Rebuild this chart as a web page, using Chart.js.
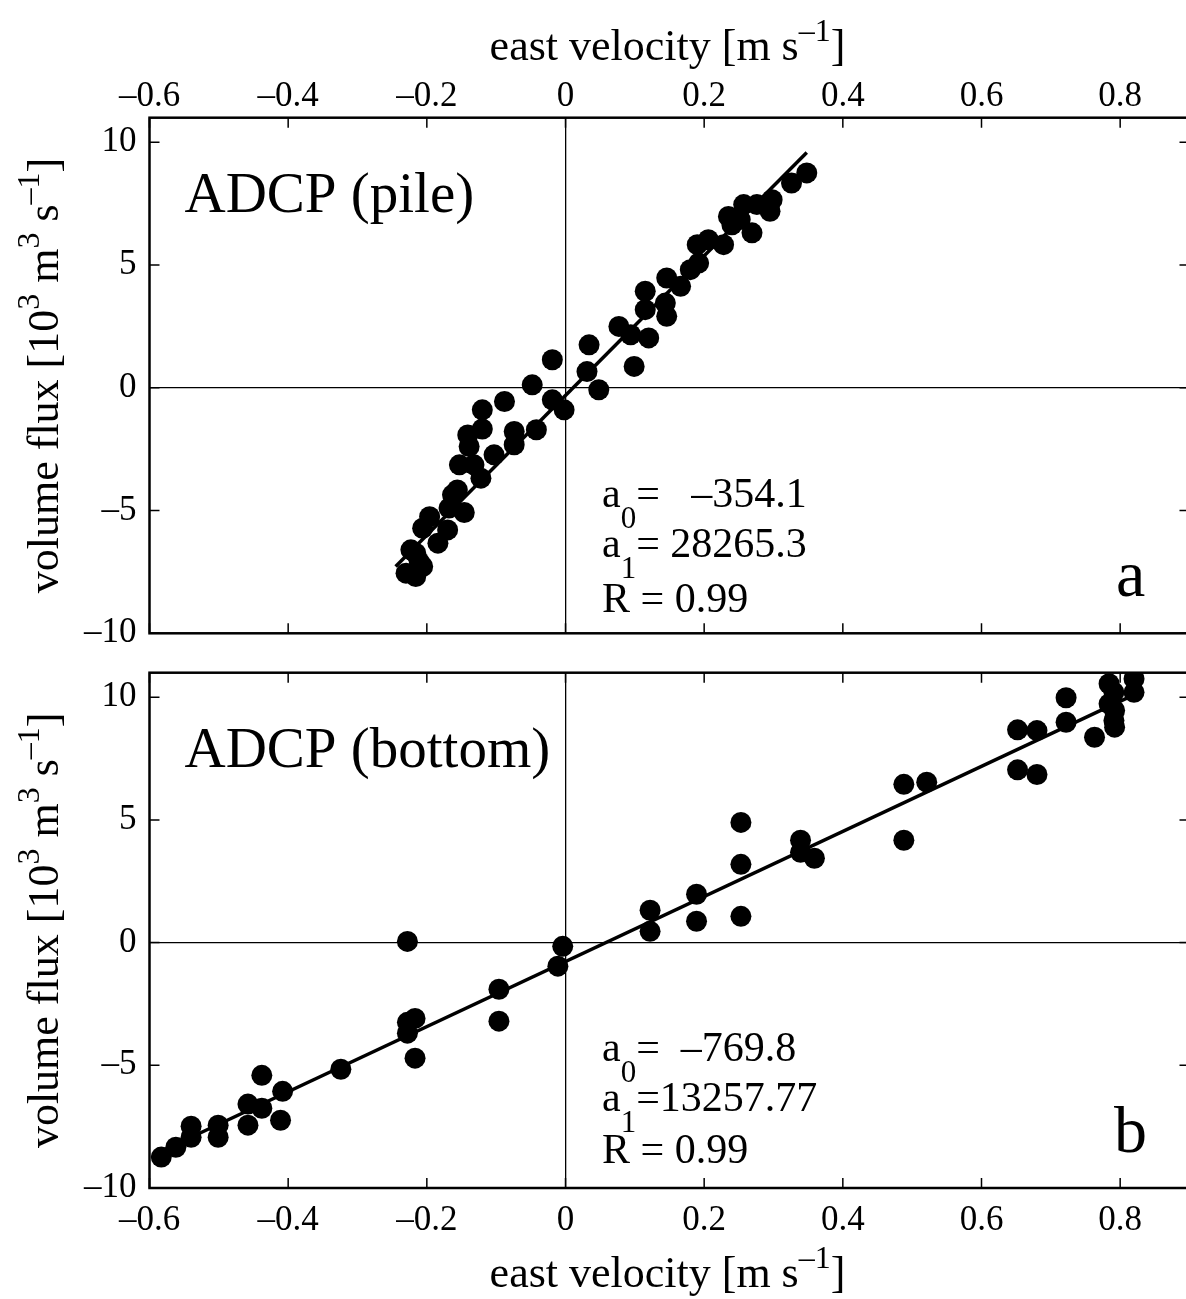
<!DOCTYPE html>
<html><head><meta charset="utf-8">
<script src="https://cdn.jsdelivr.net/npm/chart.js@4/dist/chart.umd.min.js"></script>
<style>
html,body{margin:0;padding:0;background:#fff;overflow:hidden;width:1186px;height:1299px;}
canvas{position:absolute;left:0;}
#c1{top:0;}
#c2{top:650px;}
</style></head><body>
<canvas id="c1" width="1200" height="650"></canvas>
<canvas id="c2" width="1200" height="649"></canvas>
<script>
// ---- axis ticks ----
const xTicks = [-0.6, -0.4, -0.2, 0, 0.2, 0.4, 0.6, 0.8];
const xTickLabels = ['\u20130.6', '\u20130.4', '\u20130.2', '0', '0.2', '0.4', '0.6', '0.8'];
const yTicks = [-10, -5, 0, 5, 10];
const yTickLabels = ['\u201310', '\u20135', '0', '5', '10'];

// ---- panel a: ADCP (pile) ----
const pileU = [0.348, 0.326, 0.298, 0.295, 0.276, 0.257, 0.269, 0.235, 0.240, 0.252,
  0.228, 0.206, 0.190, 0.192, 0.180, 0.166, 0.146, 0.144, 0.146, 0.115,
  0.115, 0.077, 0.094, 0.120, 0.099, 0.034, 0.031, 0.048, -0.019, -0.048,
  -0.019, -0.002, -0.088, -0.120, -0.120, -0.141, -0.139, -0.074, -0.074, -0.042,
  -0.103, -0.132, -0.153, -0.122, -0.156, -0.163, -0.146, -0.168, -0.170, -0.196,
  -0.206, -0.184, -0.216, -0.211, -0.230, -0.216, -0.206, -0.223];
const pileQ = [8.75, 8.34, 7.66, 7.19, 7.46, 7.46, 6.31, 6.98, 6.64, 6.85,
  5.83, 6.03, 5.83, 5.08, 4.81, 4.13, 4.47, 3.45, 2.91, 3.93,
  3.18, 2.50, 2.16, 2.03, 0.87, 1.75, 0.66, -0.08, 1.14, 0.12,
  -0.49, -0.90, -0.56, -0.90, -1.68, -1.92, -2.39, -1.78, -2.32, -1.71,
  -2.73, -3.14, -3.14, -3.68, -4.16, -4.36, -5.08, -4.90, -5.79, -5.25,
  -5.72, -6.33, -6.74, -7.08, -7.55, -7.69, -7.28, -6.60];
const pileFitU = [-0.245, 0.348];
const pileFitQ = [-7.28, 9.58];

// ---- panel b: ADCP (bottom) ----
const bottomU = [-0.583, -0.562, -0.540, -0.540, -0.501, -0.501, -0.458, -0.458, -0.438, -0.438,
  -0.411, -0.408, -0.324, -0.228, -0.228, -0.217, -0.217, -0.228, -0.096, -0.096,
  -0.011, -0.004, 0.122, 0.122, 0.189, 0.189, 0.253, 0.253, 0.253, 0.339,
  0.339, 0.359, 0.488, 0.521, 0.488, 0.652, 0.680, 0.652, 0.680, 0.722,
  0.722, 0.763, 0.784, 0.791, 0.784, 0.792, 0.791, 0.792, 0.820, 0.820];
const bottomQ = [-8.74, -8.34, -7.93, -7.48, -7.93, -7.44, -7.44, -6.58, -6.75, -5.41,
  -7.24, -6.06, -5.16, -3.69, -3.25, -3.09, -4.71, 0.05, -1.90, -3.20,
  -0.96, -0.15, 1.32, 0.46, 1.97, 0.87, 4.90, 3.19, 1.07, 4.17,
  3.68, 3.44, 6.45, 6.54, 4.17, 8.67, 8.64, 7.04, 6.85, 9.98,
  8.98, 8.37, 10.55, 10.20, 9.73, 9.46, 9.05, 8.78, 10.75, 10.20];
const bottomFitU = [-0.58, 0.825];
const bottomFitQ = [-8.46, 10.17];

const FONT = "'Liberation Serif', 'Times New Roman', serif";

function drawRich(ctx, x, y, segs, size, small, align) {
  let total = 0;
  const parts = segs.map(s => {
    const sz = (s.sup || s.sub) ? small : size;
    ctx.font = sz + 'px ' + FONT;
    const w = ctx.measureText(s.t).width;
    total += w;
    return { s, sz, w };
  });
  let cx = align === 'center' ? x - total / 2 : x;
  ctx.textAlign = 'left';
  ctx.textBaseline = 'alphabetic';
  for (const p of parts) {
    ctx.font = p.sz + 'px ' + FONT;
    const dy = p.s.sup ? -size * 0.43 : (p.s.sub ? size * 0.5 : 0);
    ctx.fillText(p.s.t, cx, y + dy);
    cx += p.w;
  }
}

const deco = {
  id: 'deco',
  afterDraw(chart, args, o) {
    const ctx = chart.ctx;
    const a = chart.chartArea;
    const xs = chart.scales.x, ys = chart.scales.y;
    ctx.save();
    ctx.fillStyle = '#000';
    ctx.strokeStyle = '#000';
    // inward ticks
    ctx.lineWidth = 1.5;
    ctx.beginPath();
    xs.ticks.forEach(t => {
      const px = xs.getPixelForValue(t.value);
      ctx.moveTo(px, a.top); ctx.lineTo(px, a.top + 10);
      ctx.moveTo(px, a.bottom); ctx.lineTo(px, a.bottom - 10);
    });
    ys.ticks.forEach(t => {
      const py = ys.getPixelForValue(t.value);
      ctx.moveTo(a.left, py); ctx.lineTo(a.left + 10, py);
      ctx.moveTo(a.right, py); ctx.lineTo(a.right - 10, py);
    });
    ctx.stroke();
    // box
    ctx.lineWidth = 2.5;
    ctx.strokeRect(a.left, a.top, a.right - a.left, a.bottom - a.top);
    // panel label
    ctx.font = '57px ' + FONT;
    ctx.textAlign = 'left';
    ctx.textBaseline = 'alphabetic';
    ctx.fillText(o.panel, a.left + 35, a.top + 94);
    // letter
    ctx.font = '66px ' + FONT;
    ctx.fillText(o.letter, o.letterX, o.letterY);
    // statistics
    o.stats.forEach((segs, i) => drawRich(ctx, 602, o.statY[i], segs, 42, 31, 'left'));
    // x title
    const xTitle = [{ t: 'east velocity [m s' }, { t: '\u20131', sup: true }, { t: ']' }];
    drawRich(ctx, (a.left + a.right) / 2 - 2, o.xTitleY, xTitle, 44, 32, 'center');
    // y title
    const yTitle = [{ t: 'volume flux [10' }, { t: '3', sup: true }, { t: ' m' }, { t: '3', sup: true },
      { t: ' s' }, { t: '\u20131', sup: true }, { t: ']' }];
    ctx.translate(58, (a.top + a.bottom) / 2);
    ctx.rotate(-Math.PI / 2);
    drawRich(ctx, 0, 0, yTitle, 44, 32, 'center');
    ctx.restore();
  }
};

function noPad(s) {
  s.paddingTop = 0; s.paddingBottom = 0; s.paddingLeft = 0; s.paddingRight = 0;
}

function makeChart(id, u, q, fu, fq, top, deco_opts) {
  const pts = u.map((x, i) => ({ x: x, y: q[i] }));
  const fit = fu.map((x, i) => ({ x: x, y: fq[i] }));
  return new Chart(document.getElementById(id), {
    type: 'scatter',
    data: {
      datasets: [
        { data: fit, showLine: true, borderColor: '#000', borderWidth: 3.5, pointRadius: 0, pointHoverRadius: 0, fill: false },
        { data: pts, pointRadius: 10.5, pointHoverRadius: 10.5, backgroundColor: '#000', borderWidth: 0 }
      ]
    },
    options: {
      responsive: false,
      animation: false,
      devicePixelRatio: 1,
      events: [],
      layout: { padding: top ? { top: 0, bottom: 16.7, left: 0, right: 8 } : { top: 22.7, bottom: 0, left: 0, right: 8 } },
      plugins: { legend: { display: false }, tooltip: { enabled: false }, deco: deco_opts },
      scales: {
        x: {
          type: 'linear', position: top ? 'top' : 'bottom', min: -0.6, max: 0.9,
          afterBuildTicks: s => { s.ticks = xTicks.map(v => ({ value: v })); },
          afterFit: s => { s.height = top ? 117.7 : 111; noPad(s); },
          ticks: {
            callback: (v, i) => xTickLabels[i], color: '#000', autoSkip: false, maxRotation: 0,
            padding: top ? 0 : 12, font: { family: FONT, size: 35 }
          },
          grid: { drawTicks: false, lineWidth: 1.3, color: c => (c.tick && c.tick.value === 0) ? '#000' : 'rgba(0,0,0,0)' },
          border: { display: false }
        },
        y: {
          type: 'linear', min: -10, max: 11,
          afterBuildTicks: s => { s.ticks = yTicks.map(v => ({ value: v })); },
          afterFit: s => { s.width = 149.5; noPad(s); },
          ticks: {
            callback: (v, i) => yTickLabels[i], color: '#000', padding: 13,
            font: { family: FONT, size: 35 }
          },
          grid: { drawTicks: false, lineWidth: 1.3, color: c => (c.tick && c.tick.value === 0) ? '#000' : 'rgba(0,0,0,0)' },
          border: { display: false }
        }
      }
    },
    plugins: [deco]
  });
}

makeChart('c1', pileU, pileQ, pileFitU, pileFitQ, true, {
  panel: 'ADCP (pile)', letter: 'a', letterX: 1116, letterY: 596,
  stats: [
    [{ t: 'a' }, { t: '0', sub: true }, { t: '=   \u2013354.1' }],
    [{ t: 'a' }, { t: '1', sub: true }, { t: '= 28265.3' }],
    [{ t: 'R = 0.99' }]
  ],
  statY: [506.7, 556.7, 611.7],
  xTitleY: 60
});
makeChart('c2', bottomU, bottomQ, bottomFitU, bottomFitQ, false, {
  panel: 'ADCP (bottom)', letter: 'b', letterX: 1114, letterY: 502,
  stats: [
    [{ t: 'a' }, { t: '0', sub: true }, { t: '=  \u2013769.8' }],
    [{ t: 'a' }, { t: '1', sub: true }, { t: '=13257.77' }],
    [{ t: 'R = 0.99' }]
  ],
  statY: [411.4, 461.4, 513],
  xTitleY: 636.7
});
</script>
</body></html>
